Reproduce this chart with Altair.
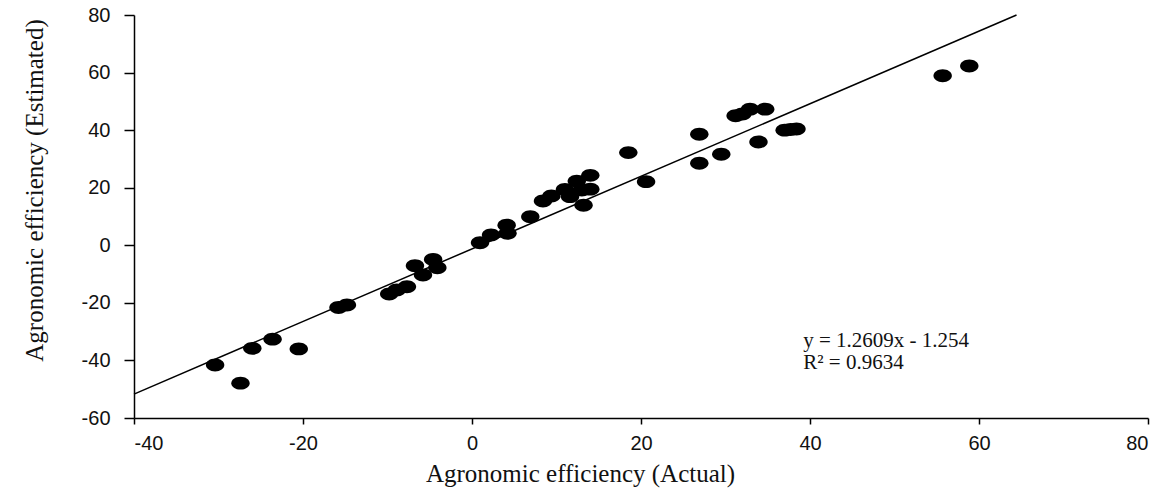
import altair as alt
import pandas as pd

# Observed (actual) vs model-estimated agronomic efficiency
actual = [-30.4, -27.4, -26.0, -23.6, -20.5, -15.8, -14.8, -9.8, -8.9, -7.7,
          -6.75, -5.8, -4.6, -4.1, 0.95, 2.25, 4.1, 4.2, 6.9, 8.4,
          9.4, 11.0, 11.6, 12.4, 13.0, 13.2, 14.0, 14.0, 18.5, 20.6,
          26.9, 26.9, 29.5, 31.2, 32.0, 32.9, 34.7, 33.9, 37.0, 37.7,
          38.4, 55.7, 58.85]
estimated = [-41.6, -47.9, -35.8, -32.6, -36.0, -21.6, -20.75, -16.9, -15.5, -14.4,
             -7.1, -10.3, -4.9, -7.8, 0.9, 3.6, 7.0, 4.15, 9.9, 15.4,
             17.1, 19.4, 16.9, 22.3, 19.2, 13.9, 24.3, 19.5, 32.2, 22.1,
             28.5, 38.6, 31.6, 45.0, 45.6, 47.3, 47.3, 35.9, 40.0, 40.2,
             40.4, 58.9, 62.3]

# Linear trend line y = slope * x + intercept
slope = 1.2609
intercept = -1.254
r_squared = 0.9634
fit_x = [-40.0, (80.0 - intercept) / slope]

equation_lines = [f"y = {slope}x - {abs(intercept)}", f"R\u00b2 = {r_squared}"]
equation_x = [39.2, 39.2]
equation_y = [-35.3, -43.0]

x_ticks = [-40, -20, 0, 20, 40, 60, 80]
y_ticks = [-60, -40, -20, 0, 20, 40, 60, 80]

points = pd.DataFrame({"actual": actual, "estimated": estimated})
fit = pd.DataFrame({"actual": fit_x, "estimated": [slope * v + intercept for v in fit_x]})
labels = pd.DataFrame({"actual": equation_x, "estimated": equation_y, "text": equation_lines})

x_scale = alt.Scale(domain=[-40, 80], nice=False, zero=False)
y_scale = alt.Scale(domain=[-60, 80], nice=False, zero=False)

# plain hyphen for negative tick labels
plain_label = "'' + datum.value"

x_axis = alt.Axis(
    values=x_ticks, grid=False, tickSize=6, tickColor="black", tickWidth=1.5,
    domainColor="black", domainWidth=1.5, labelExpr=plain_label,
    labelFont="Liberation Sans", labelFontSize=20, labelColor="#111111", labelPadding=9,
    title="Agronomic efficiency (Actual)", titleFont="Liberation Serif",
    titleFontSize=25, titleFontWeight="normal", titleColor="#111111",
    titleX=446, titleY=63, titleAlign="center", titleBaseline="alphabetic",
)
y_axis = alt.Axis(
    values=y_ticks, grid=False, tickSize=10, tickColor="black", tickWidth=1.5,
    domainColor="black", domainWidth=1.5, labelExpr=plain_label,
    labelFont="Liberation Sans", labelFontSize=20, labelColor="#111111", labelPadding=14,
    title="Agronomic efficiency (Estimated)", titleFont="Liberation Serif",
    titleFontSize=25, titleFontWeight="normal", titleColor="#111111",
    titleX=-100, titleY=175, titleAngle=270, titleAlign="center", titleBaseline="middle",
)

# Slightly flattened ellipse used as the point symbol
ellipse = "M -1 0 A 1 0.7 0 1 1 1 0 A 1 0.7 0 1 1 -1 0 Z"

dots = alt.Chart(points).mark_point(
    shape=ellipse, size=340, filled=True, fill="black", stroke="black", strokeWidth=0, opacity=1
).encode(
    x=alt.X("actual:Q", scale=x_scale, axis=x_axis),
    y=alt.Y("estimated:Q", scale=y_scale, axis=y_axis),
)

line = alt.Chart(fit).mark_line(color="black", strokeWidth=1.5).encode(
    x=alt.X("actual:Q", scale=x_scale),
    y=alt.Y("estimated:Q", scale=y_scale),
)

text = alt.Chart(labels).mark_text(
    align="left", baseline="alphabetic", font="Liberation Serif", fontSize=21, color="#111111"
).encode(
    x=alt.X("actual:Q", scale=x_scale),
    y=alt.Y("estimated:Q", scale=y_scale),
    text="text:N",
)

chart = alt.layer(line, dots, text).properties(
    width=1014,
    height=403,
    autosize=alt.AutoSizeParams(type="none"),
    padding={"left": 134, "top": 15, "right": 22, "bottom": 70},
    background="white",
).configure_view(stroke=None)

chart.save("out.html", embed_options={"renderer": "svg", "actions": False})
